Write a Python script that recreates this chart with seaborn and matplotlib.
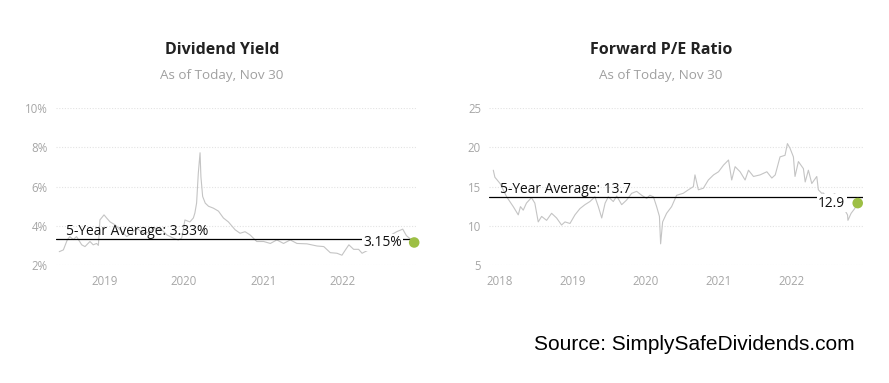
import matplotlib
matplotlib.use("Agg")
import matplotlib.pyplot as plt
import matplotlib.dates as mdates
import pandas as pd
import seaborn as sns

# ---------------- data ----------------
yield_dates = [
    "2018-06-03", "2018-06-22", "2018-07-10", "2018-07-22", "2018-08-07", "2018-08-22",
    "2018-09-15", "2018-09-30", "2018-10-23", "2018-11-07", "2018-11-23", "2018-12-01",
    "2018-12-08", "2018-12-27", "2019-01-08", "2019-01-24", "2019-02-16", "2019-03-11",
    "2019-04-11", "2019-05-04", "2019-05-27", "2019-06-27", "2019-07-28", "2019-08-20",
    "2019-09-20", "2019-10-13", "2019-11-12", "2019-12-05", "2019-12-21", "2020-01-05",
    "2020-01-28", "2020-02-13", "2020-02-20", "2020-02-28", "2020-03-07", "2020-03-15",
    "2020-03-19", "2020-03-27", "2020-04-08", "2020-04-23", "2020-05-16", "2020-06-08",
    "2020-07-01", "2020-07-24", "2020-08-24", "2020-09-16", "2020-10-09", "2020-11-01",
    "2020-12-02", "2021-01-03", "2021-02-03", "2021-03-05", "2021-04-05", "2021-05-06",
    "2021-06-06", "2021-07-22", "2021-09-07", "2021-10-08", "2021-11-07", "2021-12-08",
    "2021-12-31", "2022-01-16", "2022-02-01", "2022-02-23", "2022-03-18", "2022-04-03",
    "2022-04-26", "2022-05-20", "2022-06-15", "2022-07-10", "2022-08-10", "2022-09-10",
    "2022-10-08", "2022-10-25", "2022-11-10", "2022-11-30",
]
yield_values = [
    2.68, 2.77, 3.28, 3.45, 3.30, 3.45,
    3.03, 2.94, 3.20, 3.03, 3.10, 3.00,
    4.30, 4.56, 4.40, 4.20, 4.05, 3.80,
    3.45, 3.62, 3.88, 3.62, 3.70, 3.88,
    3.80, 3.54, 3.37, 3.28, 3.37, 4.30,
    4.20, 4.40, 4.65, 5.16, 6.70, 7.73,
    6.50, 5.50, 5.16, 5.00, 4.90, 4.75,
    4.40, 4.20, 3.80, 3.62, 3.70, 3.54,
    3.20, 3.20, 3.10, 3.28, 3.10, 3.28,
    3.10, 3.08, 2.97, 2.94, 2.63, 2.60,
    2.50, 2.77, 3.03, 2.80, 2.80, 2.60,
    2.73, 2.85, 3.00, 3.20, 3.50, 3.70,
    3.83, 3.50, 3.35, 3.15,
]

pe_dates = [
    "2017-12-01", "2017-12-09", "2018-01-04", "2018-02-06", "2018-03-11", "2018-04-05",
    "2018-04-16", "2018-04-30", "2018-05-16", "2018-06-10", "2018-06-27", "2018-07-14",
    "2018-07-31", "2018-08-25", "2018-09-19", "2018-10-14", "2018-11-08", "2018-11-25",
    "2018-12-20", "2019-01-14", "2019-02-08", "2019-03-05", "2019-03-30", "2019-04-24",
    "2019-05-11", "2019-05-28", "2019-06-14", "2019-06-30", "2019-07-25", "2019-08-11",
    "2019-09-05", "2019-09-30", "2019-10-25", "2019-11-19", "2019-12-14", "2020-01-08",
    "2020-01-24", "2020-02-11", "2020-02-27", "2020-03-12", "2020-03-18", "2020-03-28",
    "2020-04-17", "2020-05-12", "2020-06-06", "2020-07-09", "2020-08-04", "2020-08-29",
    "2020-09-06", "2020-09-23", "2020-10-18", "2020-11-12", "2020-12-08", "2021-01-02",
    "2021-01-27", "2021-02-21", "2021-03-09", "2021-03-26", "2021-04-20", "2021-05-15",
    "2021-06-01", "2021-06-26", "2021-07-29", "2021-09-01", "2021-09-26", "2021-10-13",
    "2021-11-06", "2021-12-01", "2021-12-13", "2021-12-26", "2022-01-12", "2022-01-20",
    "2022-02-06", "2022-03-03", "2022-03-12", "2022-03-28", "2022-04-14", "2022-05-09",
    "2022-05-17", "2022-06-03", "2022-06-10", "2022-07-01", "2022-08-07", "2022-09-15",
    "2022-10-10", "2022-10-12", "2022-10-28", "2022-11-15", "2022-11-30",
]
pe_values = [
    17.1, 16.2, 15.4, 13.7, 12.45, 11.4,
    12.45, 12.0, 12.9, 13.6, 12.9, 10.5,
    11.2, 10.7, 11.6, 11.0, 10.1, 10.5,
    10.3, 11.4, 12.2, 12.7, 13.1, 13.7,
    12.45, 11.0, 12.9, 13.7, 13.1, 13.8,
    12.7, 13.3, 14.15, 14.4, 13.9, 13.5,
    13.9, 13.7, 12.45, 11.2, 7.7, 10.5,
    11.6, 12.45, 13.9, 14.15, 14.6, 15.0,
    16.5, 14.6, 14.8, 15.85, 16.5, 16.9,
    17.75, 18.4, 15.85, 17.55, 16.9, 15.85,
    17.1, 16.3, 16.5, 16.9, 16.1, 16.5,
    18.8, 19.0, 20.5, 19.9, 18.8, 16.3,
    18.2, 17.3, 15.6, 17.1, 15.4, 16.3,
    14.6, 14.15, 14.2, 13.6, 14.1, 12.5,
    11.4, 10.7, 11.6, 12.2, 12.9,
]

titles = ["Dividend Yield", "Forward P/E Ratio"]
subtitle = "As of Today, Nov 30"
avg_values = [3.33, 13.7]
avg_labels = ["5-Year Average: 3.33%", "5-Year Average: 13.7"]
current_values = [3.15, 12.9]
current_labels = ["3.15%", "12.9"]
current_dates = ["2022-11-30", "2022-11-30"]
yield_ticks = [2, 4, 6, 8, 10]
pe_ticks = [5, 10, 15, 20, 25]
source_text = "Source: SimplySafeDividends.com"

# ---------------- style ----------------
sns.set_style("white")
plt.rcParams["font.family"] = ["Open Sans", "DejaVu Sans"]

W, H = 889, 383
fig = plt.figure(figsize=(W / 100, H / 100), dpi=100)

def px_axes(x0, x1, ytop, ybot):
    return fig.add_axes([x0 / W, 1 - ybot / H, (x1 - x0) / W, (ybot - ytop) / H])

ax1 = px_axes(56, 417, 108.3, 265)
ax2 = px_axes(489.3, 862.7, 108.3, 265)

df_y = pd.DataFrame({"date": pd.to_datetime(yield_dates), "value": yield_values})
df_p = pd.DataFrame({"date": pd.to_datetime(pe_dates), "value": pe_values})

green = "#9dbf45"
line_col = "#c4c4c4"
tick_col = "#a6a6a6"
grid_col = "#e3e3e3"

title_x = [222, 661]
configs = [
    (ax1, df_y, yield_ticks, ("2018-05-19", "2022-12-13"), [f"{t}%" for t in yield_ticks], 0),
    (ax2, df_p, pe_ticks, ("2017-11-11", "2022-12-25"), [str(t) for t in pe_ticks], 1),
]

for ax, df, yt, xl, ylabels, i in configs:
    sns.lineplot(data=df, x="date", y="value", ax=ax, color=line_col, linewidth=0.8)
    ax.set_ylim(yt[0], yt[-1])
    ax.set_xlim(pd.Timestamp(xl[0]), pd.Timestamp(xl[1]))
    ax.set_yticks(yt)
    ax.set_yticklabels(ylabels)
    for y in yt:
        ax.axhline(y, color=grid_col, linewidth=0.8, linestyle=(0, (1, 1.5)), zorder=0)
    ax.xaxis.set_major_locator(mdates.YearLocator())
    ax.xaxis.set_major_formatter(mdates.DateFormatter("%Y"))
    ax.tick_params(axis="y", length=0, pad=6, labelsize=8.3, labelcolor=tick_col)
    ax.tick_params(axis="x", length=4, width=0.8, color="#dddddd", pad=3,
                   labelsize=8.3, labelcolor=tick_col)
    for s in ax.spines.values():
        s.set_visible(False)
    ax.set_xlabel("")
    ax.set_ylabel("")
    # average line
    ax.axhline(avg_values[i], color="black", linewidth=0.9, zorder=3)
    ax.text(0.028, avg_values[i], avg_labels[i], transform=ax.get_yaxis_transform(),
            fontsize=9.9, color="#111111", va="bottom", ha="left", zorder=4)
    # current value
    cd = pd.Timestamp(current_dates[i])
    ax.scatter([cd], [current_values[i]], s=58, color=green, zorder=6, clip_on=False,
               edgecolors="none")
    ax.annotate(current_labels[i], xy=(cd, current_values[i]), xytext=(-9, 0),
                textcoords="offset points", ha="right", va="center",
                fontsize=9.9, color="#111111", zorder=5,
                bbox=dict(boxstyle="square,pad=0.1", fc="white", ec="none"))
    # titles
    fig.text(title_x[i] / W, 1 - 50 / H, titles[i], ha="center", va="center",
             fontsize=11.5, fontweight="bold", color="#222222")
    fig.text(title_x[i] / W, 1 - 76 / H, subtitle, ha="center", va="center",
             fontsize=9.7, color="#a0a0a0")

fig.text(855 / W, 1 - 345 / H, source_text, ha="right", va="center",
         fontsize=15, color="black", family=["Liberation Sans", "DejaVu Sans"])

fig.savefig("out.png", dpi=100, facecolor="white")
